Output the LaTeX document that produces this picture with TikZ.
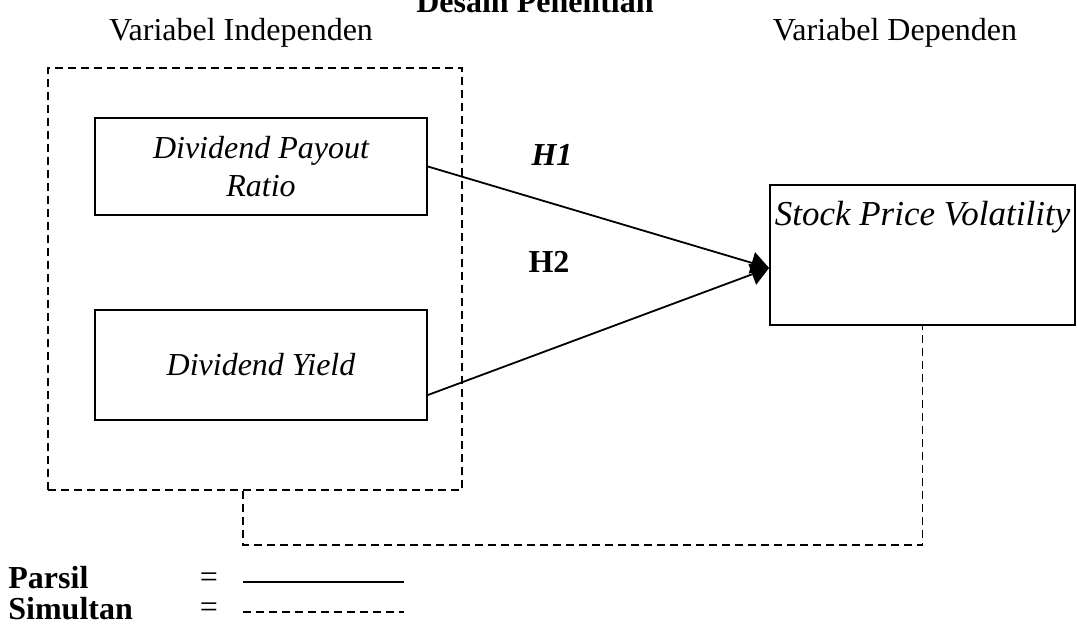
\documentclass[tikz,border=0pt]{standalone}
\usepackage{fontspec}
\setmainfont{Liberation Serif}
\usepackage{tikz}
\usetikzlibrary{arrows.meta,positioning}

\begin{document}
\begin{tikzpicture}[x=0.5pt, y=-0.5pt,
  every node/.style={font=\fontsize{16}{19}\selectfont},
  varbox/.style={draw, line width=0.9pt, minimum width=166pt, inner sep=0pt, align=center, font=\fontsize{16}{19}\selectfont\itshape},
  group/.style={draw, line width=0.9pt, dash pattern=on 4pt off 2.5pt, minimum width=207pt, minimum height=211pt, inner sep=0pt},
  parsil/.style={line width=0.9pt, -{Triangle[length=9pt, width=11pt]}},
  simul/.style={line width=0.9pt, dash pattern=on 4pt off 2.5pt},
  hyp/.style={font=\fontsize{16}{19}\selectfont\bfseries},
  head/.style={font=\fontsize{16}{19}\selectfont},
  key/.style={anchor=west, inner sep=0pt, font=\fontsize{16}{19}\selectfont\bfseries}
]
\useasboundingbox (0,0) rectangle (1077,627);
\clip (0,0) rectangle (1077,627);
% ---- headings
\node[hyp, anchor=base] (title) at (535,12) {Desain Penelitian};
\node[head] (hind) at (241,33) {Variabel Independen};
\node[head] (hdep) at (895,33) {Variabel Dependen};
% ---- variables
\node[group] (indep) at (255,279) {};
\node[varbox, minimum height=48.5pt] (dpr) at (261,166.5) {Dividend Payout\\Ratio};
\node[varbox, minimum height=55pt] (dy) at (261,365) {Dividend Yield};
\node[varbox, minimum width=152.5pt, minimum height=70pt,
  label={[anchor=center, yshift=-16.5pt, font=\fontsize{17.5}{19}\selectfont\itshape]north:Stock Price Volatility}] (spv) at (922.5,255) {};
% ---- hypotheses
\draw[parsil] (dpr.east) -- ([yshift=-6.5pt]spv.west);
\draw[parsil] ([yshift=-15pt]dy.east) -- ([yshift=-6.5pt]spv.west);
\node[hyp, font=\fontsize{16}{19}\selectfont\bfseries\itshape] (h1) at (552,155) {H1};
\node[hyp] (h2) at (549,262) {H2};
% ---- simultaneous
\coordinate (jn) at (243,545);
\draw[simul] (indep.south -| jn) -- (jn) -| (spv.south);
% ---- legend
\node[key] (kp) at (8,578) {Parsil};
\node[key] (ks) at (8,609) {Simultan};
\node[inner sep=0pt] (eqp) at (209,580) {=};
\node[inner sep=0pt] (eqs) at (209,610) {=};
\coordinate (lp0) at (243,582); \coordinate (lp1) at (404,582);
\coordinate (ls0) at (243,612); \coordinate (ls1) at (404,612);
\draw[line width=0.9pt] (lp0) -- (lp1);
\draw[simul] (ls0) -- (ls1);
\end{tikzpicture}
\end{document}
